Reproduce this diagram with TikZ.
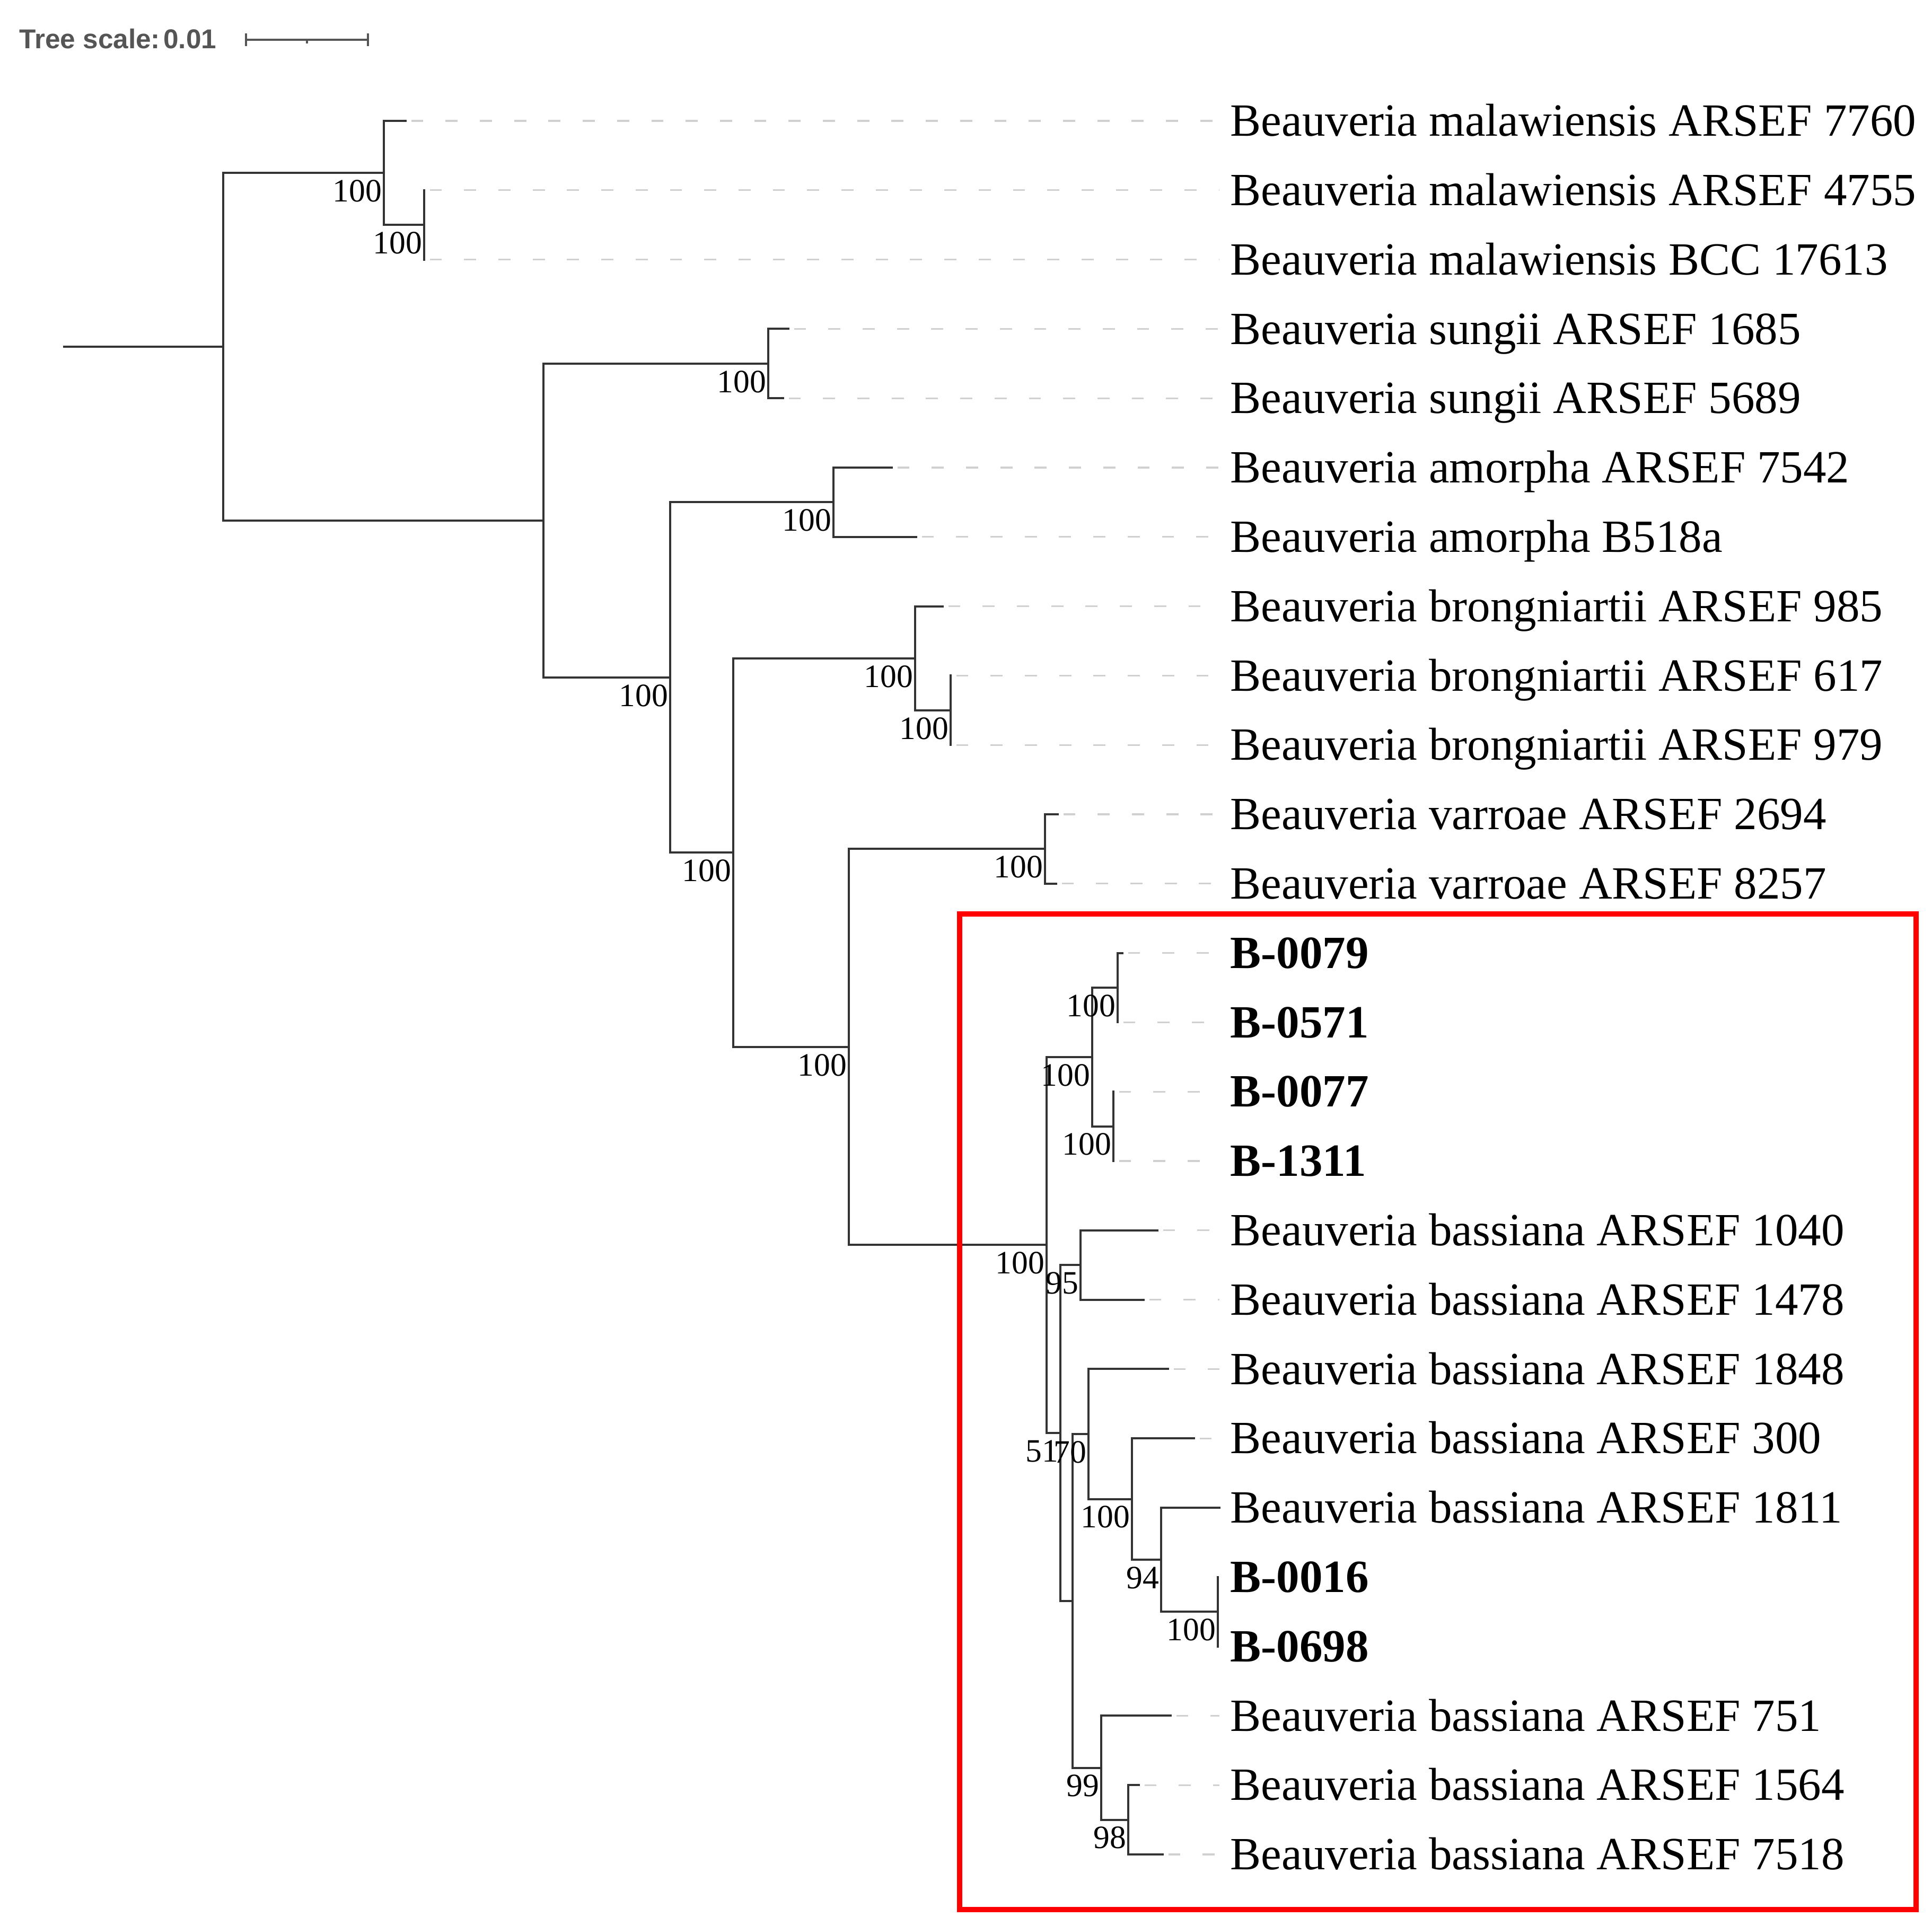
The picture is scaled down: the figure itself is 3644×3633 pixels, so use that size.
\documentclass[tikz,border=0pt]{standalone}
\usepackage{fontspec}
\setmainfont{Liberation Serif}
\newfontfamily\sansf{Liberation Sans}
\usetikzlibrary{calc}
\definecolor{branch}{HTML}{333333}
\definecolor{dashc}{HTML}{D0D0D0}
\definecolor{scalec}{HTML}{555555}
\definecolor{boxred}{HTML}{FF0000}
\begin{document}
\begin{tikzpicture}[x=0.01cm,y=-0.01cm,
  br/.style={draw=branch, line width=1.15pt, line cap=rect, line join=miter},
  leafdash/.style={draw=dashc, line width=0.9pt, dash pattern=on 6.5pt off 11.9pt, shorten <=3pt, shorten >=5.7pt},
  taxon/.style={anchor=west, inner sep=0pt, text height=16.3pt, text depth=0pt, font=\fontsize{24.75pt}{28pt}\selectfont},
  boldtaxon/.style={taxon, font=\fontsize{24.75pt}{28pt}\selectfont\bfseries},
  boot/.style={anchor=north east, inner sep=0pt, xshift=-1pt, yshift=-3.6pt, font=\fontsize{17.5pt}{20pt}\selectfont},
  scaletext/.style={anchor=base west, inner sep=0pt, text=scalec, font=\sansf\bfseries\fontsize{14.6pt}{17pt}\selectfont},
  scalebar/.style={draw=scalec, line width=0.9pt},
  redbox/.style={draw=boxred, line width=2.8pt}]
\useasboundingbox (0,0) rectangle (3644,3633);

% ---------- leaf end points ----------
\coordinate (l1) at (765,228);
\coordinate (l2) at (800,358.8);
\coordinate (l3) at (800,489.6);
\coordinate (l4) at (1487,620.4);
\coordinate (l5) at (1477,751.2);
\coordinate (l6) at (1682,882);
\coordinate (l7) at (1728,1012.8);
\coordinate (l8) at (1778,1143.6);
\coordinate (l9) at (1793,1274.4);
\coordinate (l10) at (1793,1405.2);
\coordinate (l11) at (1995,1536);
\coordinate (l12) at (1992,1666.8);
\coordinate (l13) at (2117,1797.6);
\coordinate (l14) at (2108,1928.4);
\coordinate (l15) at (2100,2059.2);
\coordinate (l16) at (2100,2190);
\coordinate (l17) at (2183,2320.8);
\coordinate (l18) at (2157,2451.6);
\coordinate (l19) at (2203,2582.4);
\coordinate (l20) at (2252,2713.2);
\coordinate (l21) at (2300,2844);
\coordinate (l22) at (2297,2974.8);
\coordinate (l23) at (2297,3105.6);
\coordinate (l24) at (2208,3236.4);
\coordinate (l25) at (2148,3367.2);
\coordinate (l26) at (2193,3498);

% ---------- internal nodes ----------
\coordinate (M1) at (800,424.2);
\coordinate (M) at (724,326.1);
\coordinate (S) at (1449,685.8);
\coordinate (Am) at (1572,947.4);
\coordinate (Br1) at (1793,1339.8);
\coordinate (Br) at (1726,1241.7);
\coordinate (V) at (1971,1601.4);
\coordinate (G1) at (2108,1863);
\coordinate (G2) at (2100,2124.6);
\coordinate (G) at (2060,1993.8);
\coordinate (N95) at (2038,2386.2);
\coordinate (Nb) at (2297,3040.2);
\coordinate (N94) at (2190,2942.1);
\coordinate (Na) at (2135,2827.65);
\coordinate (N70) at (2053,2705);
\coordinate (N98) at (2128,3432.6);
\coordinate (N99) at (2077,3334.5);
\coordinate (P) at (2023,3019.75);
\coordinate (Q) at (2000,2703);
\coordinate (F) at (1974,2348.4);
\coordinate (E) at (1601,1974.9);
\coordinate (D) at (1383,1608.3);
\coordinate (C) at (1264,1277.85);
\coordinate (B) at (1025,981.8);
\coordinate (A) at (421,654);
\coordinate (root) at (121,654);

% ---------- branches ----------
\draw[br] (root) -- (A);
\draw[br] (M) -| (A) |- (B);
\draw[br] (l1) -| (M) |- (M1);
\draw[br] (l2) -| (M1) |- (l3);
\draw[br] (S) -| (B) |- (C);
\draw[br] (l4) -| (S) |- (l5);
\draw[br] (Am) -| (C) |- (D);
\draw[br] (l6) -| (Am) |- (l7);
\draw[br] (Br) -| (D) |- (E);
\draw[br] (l8) -| (Br) |- (Br1);
\draw[br] (l9) -| (Br1) |- (l10);
\draw[br] (V) -| (E) |- (F);
\draw[br] (l11) -| (V) |- (l12);
\draw[br] (G) -| (F) |- (Q);
\draw[br] (G1) -| (G) |- (G2);
\draw[br] (l13) -| (G1) |- (l14);
\draw[br] (l15) -| (G2) |- (l16);
\draw[br] (N95) -| (Q) |- (P);
\draw[br] (l17) -| (N95) |- (l18);
\draw[br] (N70) -| (P) |- (N99);
\draw[br] (l19) -| (N70) |- (Na);
\draw[br] (l20) -| (Na) |- (N94);
\draw[br] (l21) -| (N94) |- (Nb);
\draw[br] (l22) -| (Nb) |- (l23);
\draw[br] (l24) -| (N99) |- (N98);
\draw[br] (l25) -| (N98) |- (l26);

% ---------- bootstrap values ----------
\node[boot] (bM) at (M) {100};
\node[boot] (bM1) at (M1) {100};
\node[boot] (bS) at (S) {100};
\node[boot] (bC) at (C) {100};
\node[boot] (bAm) at (Am) {100};
\node[boot] (bD) at (D) {100};
\node[boot] (bBr) at (Br) {100};
\node[boot] (bBr1) at (Br1) {100};
\node[boot] (bE) at (E) {100};
\node[boot] (bV) at (V) {100};
\node[boot] (bG1) at (G1) {100};
\node[boot] (bG) at (G) {100};
\node[boot] (bG2) at (G2) {100};
\node[boot] (bF) at (F) {100};
\node[boot] (bN95) at (N95) {95};
\node[boot] (bQ) at (Q) {51};
\node[boot] (bN70) at (N70) {70};
\node[boot] (bNa) at (Na) {100};
\node[boot] (bN94) at (N94) {94};
\node[boot] (bNb) at (Nb) {100};
\node[boot] (bN99) at (N99) {99};
\node[boot] (bN98) at (N98) {98};

% ---------- taxa ----------
\node[taxon] (t1) at (2320,228) {Beauveria malawiensis ARSEF 7760};
\node[taxon] (t2) at (2320,358.8) {Beauveria malawiensis ARSEF 4755};
\node[taxon] (t3) at (2320,489.6) {Beauveria malawiensis BCC 17613};
\node[taxon] (t4) at (2320,620.4) {Beauveria sungii ARSEF 1685};
\node[taxon] (t5) at (2320,751.2) {Beauveria sungii ARSEF 5689};
\node[taxon] (t6) at (2320,882) {Beauveria amorpha ARSEF 7542};
\node[taxon] (t7) at (2320,1012.8) {Beauveria amorpha B518a};
\node[taxon] (t8) at (2320,1143.6) {Beauveria brongniartii ARSEF 985};
\node[taxon] (t9) at (2320,1274.4) {Beauveria brongniartii ARSEF 617};
\node[taxon] (t10) at (2320,1405.2) {Beauveria brongniartii ARSEF 979};
\node[taxon] (t11) at (2320,1536) {Beauveria varroae ARSEF 2694};
\node[taxon] (t12) at (2320,1666.8) {Beauveria varroae ARSEF 8257};
\node[boldtaxon] (t13) at (2320,1797.6) {B-0079};
\node[boldtaxon] (t14) at (2320,1928.4) {B-0571};
\node[boldtaxon] (t15) at (2320,2059.2) {B-0077};
\node[boldtaxon] (t16) at (2320,2190) {B-1311};
\node[taxon] (t17) at (2320,2320.8) {Beauveria bassiana ARSEF 1040};
\node[taxon] (t18) at (2320,2451.6) {Beauveria bassiana ARSEF 1478};
\node[taxon] (t19) at (2320,2582.4) {Beauveria bassiana ARSEF 1848};
\node[taxon] (t20) at (2320,2713.2) {Beauveria bassiana ARSEF 300};
\node[taxon] (t21) at (2320,2844) {Beauveria bassiana ARSEF 1811};
\node[boldtaxon] (t22) at (2320,2974.8) {B-0016};
\node[boldtaxon] (t23) at (2320,3105.6) {B-0698};
\node[taxon] (t24) at (2320,3236.4) {Beauveria bassiana ARSEF 751};
\node[taxon] (t25) at (2320,3367.2) {Beauveria bassiana ARSEF 1564};
\node[taxon] (t26) at (2320,3498) {Beauveria bassiana ARSEF 7518};

% ---------- dashed leaf guides ----------
\foreach \i in {1,...,20,24,25,26}{
  \draw[leafdash] (l\i) -- (t\i.west);
}

% ---------- tree scale ----------
\node[scaletext] (ts) at (36,91) {Tree scale:\kern0.12em0.01};
\coordinate (sb1) at (464,75);
\coordinate (sb2) at (694,75);
\coordinate (sbm) at (579,75);
\draw[scalebar] (sb1) -- (sb2);
\draw[scalebar] ($(sb1)+(0,-12)$) -- ($(sb1)+(0,12)$);
\draw[scalebar] ($(sb2)+(0,-12)$) -- ($(sb2)+(0,12)$);
\draw[scalebar] (sbm) -- ($(sbm)+(0,7)$);

% ---------- highlight box ----------
\coordinate (rb1) at (1810,1724);
\coordinate (rb2) at (3614,3602);
\draw[redbox] (rb1) rectangle (rb2);
\end{tikzpicture}
\end{document}
